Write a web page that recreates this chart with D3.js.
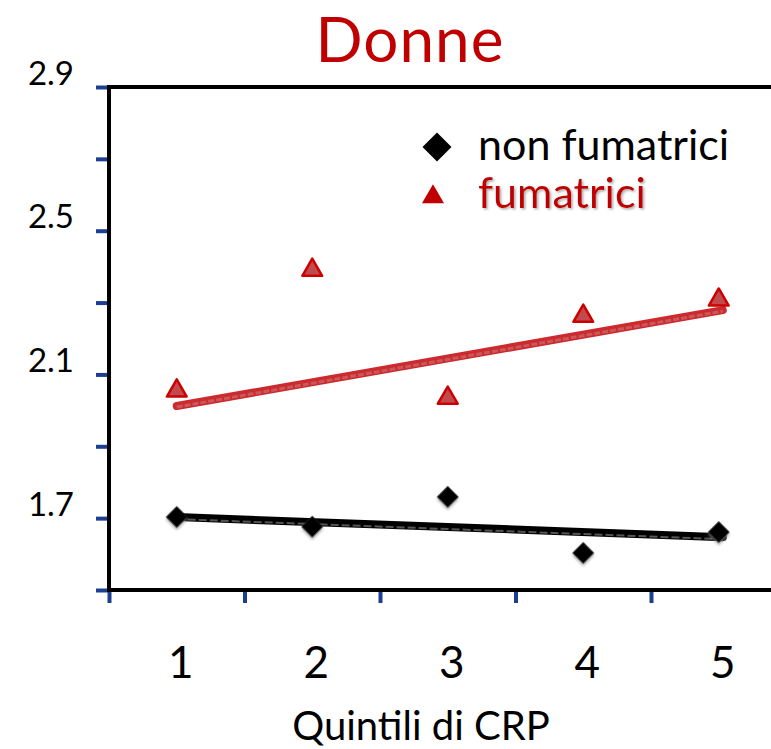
<!DOCTYPE html>
<html>
<head>
<meta charset="utf-8">
<script src="https://cdn.jsdelivr.net/npm/d3@7"></script>
<style>
  html, body { margin: 0; padding: 0; background: #fff; }
  svg { display: block; }
  text { font-family: Lato, "Open Sans", sans-serif; }
</style>
</head>
<body>
<svg id="chart" width="771" height="749"></svg>
<script>
// ---- Data ----
const categories = [1, 2, 3, 4, 5];
const nonFumatrici = [1.703, 1.676, 1.759, 1.603, 1.661];
const fumatrici = [2.06, 2.396, 2.04, 2.268, 2.313];
const trendX = [1, 5.03];
const trendNonFumatrici = [1.703, 1.647];
const trendFumatrici = [2.012, 2.279];
const yTicks = [1.5, 1.7, 1.9, 2.1, 2.3, 2.5, 2.7, 2.9];
const yLabels = ["2.9", "2.5", "2.1", "1.7"];
const seriesNames = ["non fumatrici", "fumatrici"];
const titleText = "Donne";
const xTitle = "Quintili di CRP";

// ---- Layout ----
const W = 771, H = 749;
const mLeft = 109, mTop = 87, mBottom = 590;
const band = 135.5;
const svg = d3.select("#chart");

const x = d3.scaleLinear().domain([0.5, 5.5]).range([mLeft, mLeft + 5 * band]);
const y = d3.scaleLinear().domain([1.5, 2.9]).range([mBottom, mTop]);

const red = "#c00000";

// defs: shadow
const defs = svg.append("defs");
const f = defs.append("filter").attr("id", "shadow").attr("x", "-20%").attr("y", "-20%").attr("width", "150%").attr("height", "150%");
f.append("feDropShadow").attr("dx", 1.5).attr("dy", 1.5).attr("stdDeviation", 1).attr("flood-color", "#888").attr("flood-opacity", 0.7);

// Title
svg.append("text").attr("x", 410).attr("y", 62).attr("text-anchor", "middle")
  .attr("font-size", 62).attr("letter-spacing", 1).attr("fill", red).text(titleText);

// Y axis
const yAxis = d3.axisLeft(y).tickValues(yTicks).tickSize(13)
  .tickFormat(d => yLabels.includes(d.toFixed(1)) ? d.toFixed(1) : "");
const gy = svg.append("g").attr("transform", `translate(${mLeft},0)`).call(yAxis);
gy.select(".domain").remove();
gy.selectAll(".tick line").attr("stroke", "#1c3f94").attr("stroke-width", 4);
gy.selectAll(".tick text").attr("x", -35).attr("dy", "-3px")
  .attr("font-size", 33).attr("fill", "#000").attr("font-family", "Lato, sans-serif");

// X axis
const xAxis = d3.axisBottom(x).tickValues(d3.range(0.5, 5.6, 1)).tickSize(13).tickFormat("");
const gx = svg.append("g").attr("transform", `translate(0,${mBottom})`).call(xAxis);
gx.select(".domain").remove();
gx.selectAll(".tick line").attr("stroke", "#1c3f94").attr("stroke-width", 4);

// X labels
svg.append("g").selectAll("text").data(categories).join("text")
  .attr("x", d => x(d) + 4).attr("y", 678).attr("text-anchor", "middle")
  .attr("font-size", 44).attr("fill", "#000").text(d => d);

svg.append("text").attr("x", 421).attr("y", 740).attr("text-anchor", "middle")
  .attr("font-size", 40).attr("fill", "#000").text(xTitle);

// Frame lines
svg.append("line").attr("x1", mLeft).attr("x2", W).attr("y1", mTop).attr("y2", mTop)
  .attr("stroke", "#000").attr("stroke-width", 4);
svg.append("line").attr("x1", mLeft).attr("x2", W).attr("y1", mBottom).attr("y2", mBottom)
  .attr("stroke", "#000").attr("stroke-width", 4);
svg.append("line").attr("x1", mLeft).attr("x2", mLeft).attr("y1", mTop - 2).attr("y2", mBottom + 2)
  .attr("stroke", "#000").attr("stroke-width", 4);

// Trend lines
const line = d3.line().x(d => x(d[0])).y(d => y(d[1]));
const blackTrend = trendX.map((v, i) => [v, trendNonFumatrici[i]]);
const redTrend = trendX.map((v, i) => [v, trendFumatrici[i]]);
svg.append("path").attr("d", line(blackTrend)).attr("fill", "none")
  .attr("stroke", "#000").attr("stroke-width", 8).attr("stroke-linecap", "round");
svg.append("path").attr("d", line(blackTrend)).attr("fill", "none")
  .attr("stroke", "#555").attr("stroke-width", 2).attr("stroke-dasharray", "8,3")
  .attr("transform", "translate(0,2)");
svg.append("path").attr("d", line(redTrend)).attr("fill", "none")
  .attr("stroke", "#cc2a2e").attr("stroke-width", 8).attr("stroke-linecap", "round");
svg.append("path").attr("d", line(redTrend)).attr("fill", "none")
  .attr("stroke", "#c9585a").attr("stroke-width", 3).attr("stroke-dasharray", "6,2")
  .attr("transform", "translate(0,1)");

// Markers
const diamond = d3.symbol().type(d3.symbolSquare).size(240);
svg.append("g").selectAll("path").data(categories).join("path")
  .attr("d", diamond)
  .attr("transform", (d, i) => `translate(${x(d)},${y(nonFumatrici[i])}) rotate(45)`)
  .attr("fill", "#000").attr("filter", "url(#shadow)");

const tri = d3.symbol().type(d3.symbolTriangle).size(170);
svg.append("g").selectAll("path").data(categories).join("path")
  .attr("d", tri)
  .attr("transform", (d, i) => `translate(${x(d)},${y(fumatrici[i]) + 2})`)
  .attr("fill", "#c24a4c").attr("stroke", "#cc0000").attr("stroke-width", 2.5)
  .attr("stroke-linejoin", "round");

// Legend
const lg = svg.append("g");
lg.append("path").attr("d", d3.symbol().type(d3.symbolSquare).size(420))
  .attr("transform", "translate(437,147) rotate(45)").attr("fill", "#000");
lg.append("text").attr("x", 478).attr("y", 160).attr("font-size", 43)
  .attr("fill", "#000").text(seriesNames[0]);
lg.append("path").attr("d", d3.symbol().type(d3.symbolTriangle).size(210))
  .attr("transform", "translate(433,197)").attr("fill", red);
lg.append("text").attr("x", 478).attr("y", 208).attr("font-size", 43)
  .attr("fill", red).attr("filter", "url(#shadow)").text(seriesNames[1]);
</script>
</body>
</html>
